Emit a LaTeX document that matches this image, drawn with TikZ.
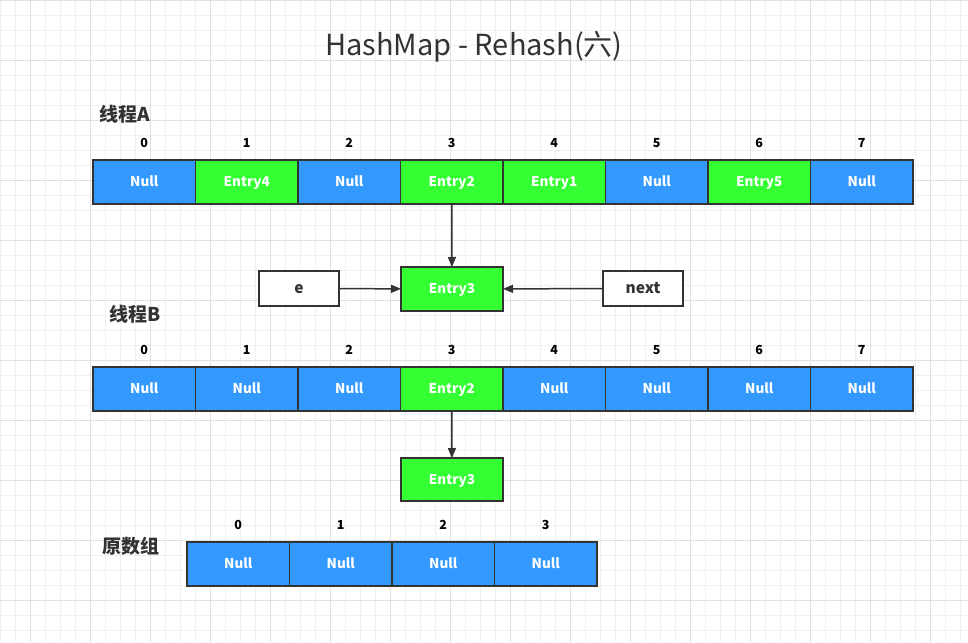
\documentclass[tikz,border=0pt]{standalone}
\usepackage{fontspec}
\setmainfont{Noto Sans CJK SC}
\usetikzlibrary{arrows.meta}
\definecolor{cblue}{RGB}{51,153,255}
\definecolor{cgreen}{RGB}{51,255,51}
\definecolor{cline}{RGB}{51,51,51}
\begin{document}
\begin{tikzpicture}[x=1pt,y=-1pt,
  minorgrid/.style={draw=black!6,line width=0.6pt},
  majorgrid/.style={draw=black!12,line width=0.8pt},
  cell/.style={draw=cline,line width=1.5pt,minimum width=102.5pt,minimum height=44pt,inner sep=0pt,outer sep=0pt,text=white,text height=11pt,text depth=2pt,font=\bfseries\fontsize{13.5}{13.5}\selectfont},
  bluecell/.style={cell,fill=cblue},
  greencell/.style={cell,fill=cgreen},
  ptr/.style={draw=cline,line width=1.5pt,fill=white,minimum width=80pt,minimum height=35pt,inner sep=0pt,text=cline,text height=12pt,text depth=2.5pt,font=\bfseries\fontsize{15.5}{15.5}\selectfont},
  idx/.style={text=black,font=\bfseries\fontsize{12.5}{12.5}\selectfont,inner sep=0pt},
  lbl/.style={text=cline,font=\bfseries\fontsize{19}{19}\selectfont,inner sep=0pt,anchor=west},
  link/.style={draw=cline,line width=1.5pt,-{Triangle[length=10pt,width=8pt]}}
]
\useasboundingbox (0,0) rectangle (968,642);
\fill[white] (0,0) rectangle (968,642);
\foreach \i in {0,15,...,960} \draw[minorgrid] (\i,0) -- (\i,642);
\foreach \j in {0,15,...,630} \draw[minorgrid] (0,\j) -- (968,\j);
\foreach \i in {30,90,...,930} \draw[majorgrid] (\i,0) -- (\i,642);
\foreach \j in {0,60,...,600} \draw[majorgrid] (0,\j) -- (968,\j);

\node[text=cline,font=\fontsize{29}{29}\selectfont,inner sep=0pt] (title) at (474,47) {HashMap - Rehash(六)};

% Thread A
\node[lbl] (la) at (99,114) {线程A};
\foreach \i/\s/\t in {0/bluecell/Null,1/greencell/Entry4,2/bluecell/Null,3/greencell/Entry2,4/greencell/Entry1,5/bluecell/Null,6/greencell/Entry5,7/bluecell/Null}{
  \node[\s] (a\i) at ({93+102.5*(\i+0.5)},182) {\t};
  \node[idx] (ai\i) at ({93+102.5*(\i+0.5)},143) {\i};
}
\node[greencell,minimum width=102pt] (ea3) at (452,289) {Entry3};
\node[ptr] (e) at (299,288.5) {e};
\node[ptr] (next) at (643,288.5) {next};
\draw[link] (a3) -- (ea3);
\draw[link] (e) -- (ea3);
\draw[link] (next) -- (ea3);

% Thread B
\node[lbl] (lb) at (109,314) {线程B};
\foreach \i/\s/\t in {0/bluecell/Null,1/bluecell/Null,2/bluecell/Null,3/greencell/Entry2,4/bluecell/Null,5/bluecell/Null,6/bluecell/Null,7/bluecell/Null}{
  \node[\s] (b\i) at ({93+102.5*(\i+0.5)},389) {\t};
  \node[idx] (bi\i) at ({93+102.5*(\i+0.5)},350) {\i};
}
\node[greencell,minimum width=102pt,minimum height=43pt] (eb3) at (452,479.5) {Entry3};
\draw[link] (b3) -- (eb3);

% Original array
\node[lbl] (lo) at (102,546) {原数组};
\foreach \i in {0,...,3}{
  \node[bluecell] (o\i) at ({187+102.5*(\i+0.5)},564) {Null};
  \node[idx] (oi\i) at ({187+102.5*(\i+0.5)},525) {\i};
}
\end{tikzpicture}
\end{document}
